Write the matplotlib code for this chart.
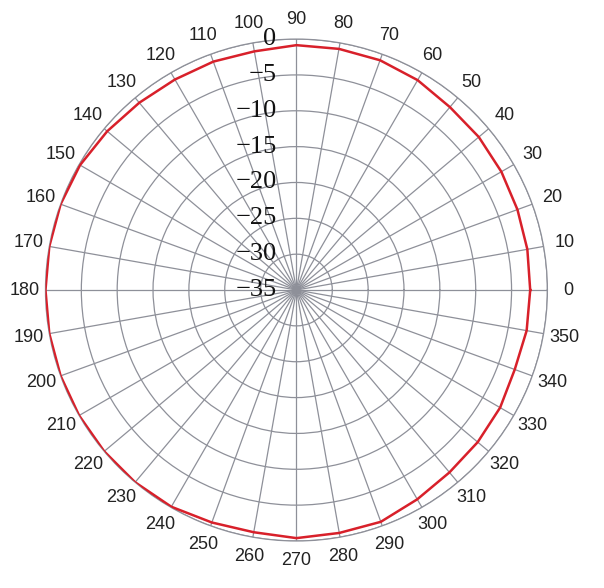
import numpy as np
import matplotlib
matplotlib.use("Agg")
import matplotlib.pyplot as plt
from matplotlib.transforms import offset_copy

# Диаграмма направленности, дБ через каждые 10 градусов
angles_deg = [0, 10, 20, 30, 40, 50, 60, 70, 80, 90, 100, 110,
              120, 130, 140, 150, 160, 170, 180, 190, 200, 210, 220, 230,
              240, 250, 260, 270, 280, 290, 300, 310, 320, 330, 340, 350]
gain_db = [-2.4, -2.3, -2.2, -2.0, -1.8, -1.7, -1.2, -0.9, -0.85, -0.85, -1.2, -1.1,
           -1.1, -0.9, -0.55, -0.15, 0.0, 0.0, 0.0, 0.0, 0.0, 0.0, 0.0, 0.0,
           -0.1, -0.5, -0.7, -0.4, -0.6, -0.6, -1.3, -1.8, -2.0, -2.2, -2.6, -2.4]
r_ticks = [-35, -30, -25, -20, -15, -10, -5, 0]
theta_ticks = list(range(0, 360, 10))

GRID_COLOR = "#8e9099"

fig = plt.figure(figsize=(6.04, 5.88), dpi=100)
ax = fig.add_axes([0.0753, 0.0799, 0.831, 0.8537], projection="polar")

theta = np.deg2rad(angles_deg + [angles_deg[0]])
vals = gain_db + [gain_db[0]]
ax.plot(theta, vals, color="#d8202a", linewidth=1.8, zorder=5)

ax.set_ylim(-35, 0)
ax.set_rticks(r_ticks)
ax.set_yticklabels([])
ax.set_thetagrids(theta_ticks, labels=[])
ax.grid(True, color=GRID_COLOR, linewidth=0.9)
ax.spines["polar"].set_color(GRID_COLOR)
ax.spines["polar"].set_linewidth(0.9)

# подписи углов - вручную, центр текста на ~21 px за внешним кругом
for t in theta_ticks:
    a = np.deg2rad(t)
    tr = offset_copy(ax.transData, fig=fig, x=21 * np.cos(a), y=20 * np.sin(a), units="dots")
    ax.text(a, 0, str(t), transform=tr, ha="center", va="center",
            family="Liberation Sans", fontsize=13, color="#222222", clip_on=False)

# подписи радиальной шкалы вдоль луча 90 градусов
trans = offset_copy(ax.transData, fig=fig, x=-20, y=0, units="dots")
for r in r_ticks:
    lab = "0" if r == 0 else "\u2212" + str(-r)
    ax.text(np.pi / 2, r, lab, transform=trans, ha="right", va="center",
            family="Liberation Serif", fontsize=19, color="#111111", zorder=6)

fig.savefig("out.png", dpi=100)
